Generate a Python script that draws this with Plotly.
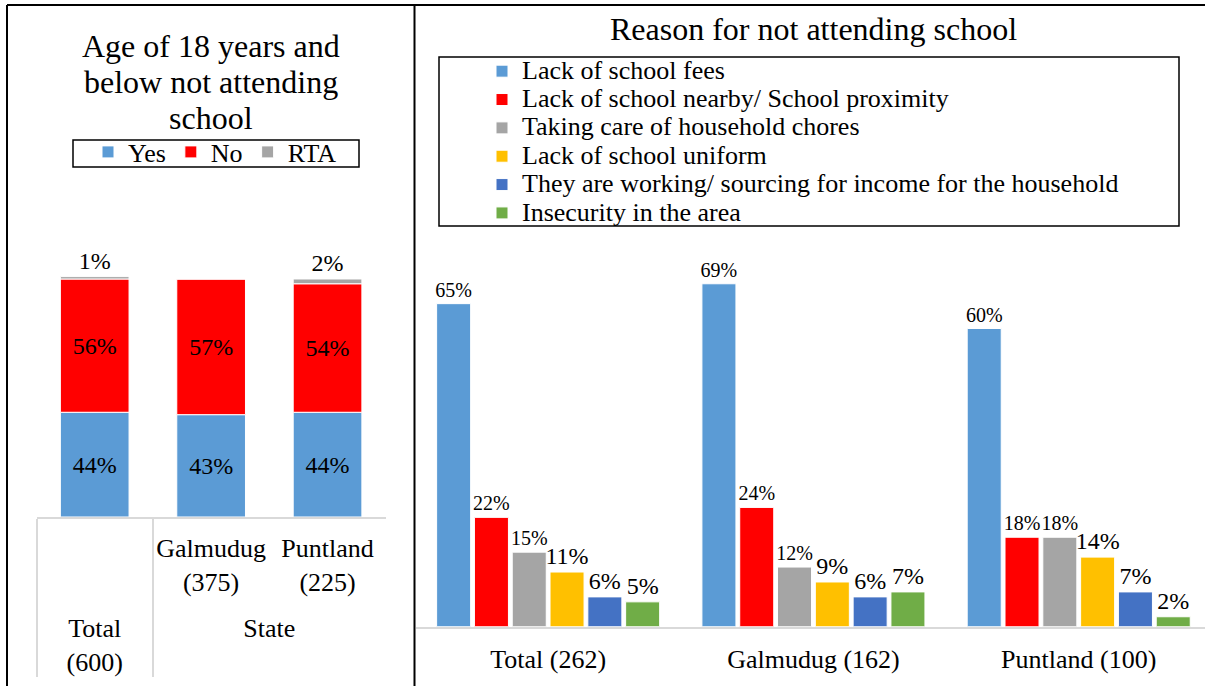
import plotly.graph_objects as go

W, H = 1205, 686
FONT = "Liberation Serif, Times New Roman, serif"

# ---------------- data: left chart ----------------
left_outer = ["Total<br>(600)", "State", "State"]
left_inner = ["<span style='font-size:50px'>\u00a0</span>", "Galmudug<br>(375)", "Puntland<br>(225)"]
left_series = ["Yes", "No", "RTA"]
yes_pct = [44, 43, 44]
no_pct = [56, 57, 54]
rta_pct = [1, 0, 2]
left_colors = ["#5B9BD5", "#FF0000", "#A5A5A5"]

# ---------------- data: right chart ----------------
right_cats = ["Total (262)", "Galmudug (162)", "Puntland (100)"]
right_series = [
    "Lack of school fees",
    "Lack of school nearby/ School proximity",
    "Taking care of household chores",
    "Lack of school uniform",
    "They are working/ sourcing for income for the household",
    "Insecurity in the area",
]
fees = [65, 69, 60]
nearby = [22, 24, 18]
chores = [15, 12, 18]
uniform = [11, 9, 14]
working = [6, 6, 7]
insecurity = [5, 7, 2]
right_colors = ["#5B9BD5", "#FF0000", "#A5A5A5", "#FFC000", "#4472C4", "#70AD47"]
right_label_sizes = [20, 20, 20, 24, 24, 24]

left_title_lines = ["Age of 18 years and", "below not attending", "school"]
right_title = "Reason for not attending school"


def px(x):
    return x / W


def py(y):
    return 1 - y / H


fig = go.Figure()

# left stacked bars (stacked via cumulative base)
base = [0, 0, 0]
for name, vals, col in zip(left_series, [yes_pct, no_pct, rta_pct], left_colors):
    is_top = name == "RTA"
    fig.add_trace(go.Bar(
        x=[left_outer, left_inner], y=vals, base=list(base), name=name,
        marker=dict(color=col, line=dict(color="white", width=1)),
        width=0.59, offset=-0.295, offsetgroup="left",
        text=[f"{v}%" if v > 0 else "" for v in vals],
        textposition="outside" if is_top else "inside",
        insidetextanchor="middle",
        textfont=dict(family=FONT, size=24, color="black"),
        constraintext="none", cliponaxis=False,
        xaxis="x", yaxis="y", legend="legend", hoverinfo="skip",
    ))
    base = [b + v for b, v in zip(base, vals)]

# right grouped bars
for name, vals, col, fs in zip(right_series,
                                [fees, nearby, chores, uniform, working, insecurity],
                                right_colors, right_label_sizes):
    fig.add_trace(go.Bar(
        x=right_cats, y=vals,
        name=f'<span style="font-size:26px">{name}</span>',
        marker=dict(color=col, line=dict(color="white", width=1)),
        text=[f"{v}%" for v in vals], textposition="outside",
        textfont=dict(family=FONT, size=fs, color="black"),
        constraintext="none", cliponaxis=False,
        xaxis="x2", yaxis="y2", legend="legend2", hoverinfo="skip",
    ))

shapes = [
    # table frame
    dict(type="line", xref="paper", yref="paper", x0=px(7), x1=px(1205), y0=py(5), y1=py(5),
         line=dict(color="black", width=2)),
    dict(type="line", xref="paper", yref="paper", x0=px(7), x1=px(7), y0=py(5), y1=py(686),
         line=dict(color="black", width=2)),
    dict(type="line", xref="paper", yref="paper", x0=px(414.5), x1=px(414.5), y0=py(5), y1=py(686),
         line=dict(color="black", width=2)),
    # legend boxes
    dict(type="rect", xref="paper", yref="paper", x0=px(73), x1=px(359), y0=py(140), y1=py(167),
         line=dict(color="black", width=1.5)),
    dict(type="rect", xref="paper", yref="paper", x0=px(439), x1=px(1179), y0=py(57), y1=py(226),
         line=dict(color="black", width=1.5)),
]

annotations = []
for line_txt, yc in zip(left_title_lines, [46, 82, 118]):
    annotations.append(dict(text=line_txt, x=px(211), y=py(yc), xref="paper", yref="paper",
                            xanchor="center", yanchor="middle", showarrow=False,
                            font=dict(family=FONT, size=32, color="black")))
annotations.append(dict(text=right_title, x=px(813), y=py(29), xref="paper", yref="paper",
                        xanchor="center", yanchor="middle", showarrow=False,
                        font=dict(family=FONT, size=32, color="black")))

Y_TOP = 102  # left value axis top
fig.update_layout(
    width=W, height=H, margin=dict(l=0, r=0, t=0, b=0),
    paper_bgcolor="white", plot_bgcolor="rgba(0,0,0,0)",
    barmode="group", bargap=0.145, bargroupgap=0.1,
    font=dict(family=FONT, color="black"),
    xaxis=dict(domain=[px(36.5), px(385.75)], type="multicategory", range=[-0.5, 2.5],
               showdividers=True, dividercolor="#D9D9D9", dividerwidth=1.5,
               showline=True, linecolor="#D9D9D9", linewidth=1.5,
               tickfont=dict(family=FONT, size=26, color="black"), tickangle=0,
               ticks="", ticklabelstandoff=7, showgrid=False, zeroline=False,
               anchor="y", automargin=False),
    yaxis=dict(domain=[py(517), py(517 - 238 * Y_TOP / 100)], range=[0, Y_TOP],
               visible=False, anchor="x"),
    xaxis2=dict(domain=[px(415.5), 1], type="category", range=[-0.5, 2.476],
                showline=True, linecolor="#D9D9D9", linewidth=1.5,
                tickfont=dict(family=FONT, size=26, color="black"), tickangle=0,
                ticks="", ticklabelstandoff=8, showgrid=False, zeroline=False,
                anchor="y2", automargin=False),
    yaxis2=dict(domain=[py(626.7), py(626.7 - 4.97 * 100)], range=[0, 100], visible=False, anchor="x2"),
    legend=dict(orientation="h", x=px(88), xanchor="left", y=py(152), yanchor="middle",
                font=dict(family=FONT, size=26, color="black"),
                bgcolor="rgba(0,0,0,0)", borderwidth=0, itemclick=False, itemdoubleclick=False),
    legend2=dict(orientation="v", x=px(482), xanchor="left", y=py(52), yanchor="top",
                 font=dict(family=FONT, size=19.5, color="black"),
                 bgcolor="rgba(0,0,0,0)", borderwidth=0, itemclick=False, itemdoubleclick=False),
    shapes=shapes, annotations=annotations, showlegend=True,
)

fig.write_html("out.html", include_plotlyjs=True, full_html=True,
               config={"displayModeBar": False},
               post_script="document.body.style.margin='0';document.body.style.overflow='hidden';")
